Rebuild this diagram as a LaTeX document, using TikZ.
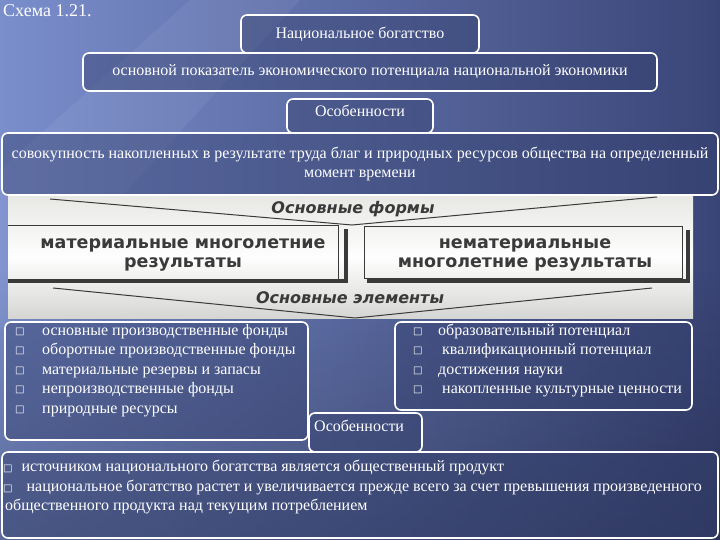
\documentclass[tikz,border=0pt]{standalone}
\usepackage{fontspec}
\setmainfont{Liberation Serif}
\newfontfamily\scanfont{DejaVu Sans}
\newfontfamily\markfont{DejaVu Sans}
\usetikzlibrary{fadings}

\definecolor{slidelight}{HTML}{7A8ECC}
\definecolor{slidedark}{HTML}{3A4577}
\definecolor{boxfill}{HTML}{34406E}
\definecolor{scanpaper}{HTML}{E8E8E5}
\definecolor{scanink}{HTML}{3A3A3A}

\tikzset{
  slidebox/.style={draw=white, line width=1.6pt, rounded corners=6pt, fill=boxfill,
    fill opacity=0.45, text opacity=1, text=white, inner sep=0pt,
    font=\fontsize{16}{19.5}\selectfont, align=center},
  slidetext/.style={text=white, font=\fontsize{16}{19.5}\selectfont, inner sep=0pt, anchor=base west},
  scanline/.style={scanink, line width=1pt},
  scanshadow/.style={scanink, line width=3.5pt},
  scanlabel/.style={text=scanink, font=\scanfont\bfseries\fontsize{17.5}{19}\selectfont, align=center},
  scantitle/.style={text=scanink, font=\scanfont\bfseries\itshape\fontsize{16}{17}\selectfont},
}
\newcommand{\sqmark}{{\markfont\fontsize{10}{10}\selectfont □}}

\begin{document}
\begin{tikzpicture}[x=1pt,y=-1pt]
  % background
  \useasboundingbox (0,0) rectangle (720,540);
  \shade[left color=slidelight, right color=slidedark] (0,0) rectangle (720,540);
  \fill[white, opacity=0.06] (0,170) -- (0,330) -- (300,0) -- (190,0) -- cycle;
  \fill[black, opacity=0.25, path fading=north] (0,270) rectangle (720,540);

  \node[text=white, font=\fontsize{18}{20}\selectfont, anchor=base west, inner sep=0pt] (scheme) at (3,17) {Схема 1.21.};

  % upper boxes
  \node[slidebox, minimum width=238pt, minimum height=38pt] (wealth) at (360,34) {Национальное богатство};
  \node[slidebox, minimum width=574pt, minimum height=38pt] (index) at (370,72) {основной показатель экономического потенциала национальной экономики};
  \node[slidebox, minimum width=146pt, minimum height=34pt] (feat) at (360,116) {};
  \node[slidetext, anchor=base] (feattext) at (360,117) {Особенности};
  \node[slidebox, minimum width=716pt, minimum height=62pt] (essence) at (360,164)
    {совокупность накопленных в результате труда благ и природных ресурсов общества на определенный\\момент времени};

  % scanned scheme
  \shade[top color=scanpaper, bottom color=scanpaper!92!black, middle color=white!96!scanpaper] (8,197) rectangle (693,318);
  \coordinate (fl) at (50,199);
  \coordinate (fr) at (657,197);
  \coordinate (fj) at (352,225);
  \coordinate (el) at (53,288);
  \coordinate (er) at (652,288);
  \coordinate (ej) at (355,318);
  \draw[scanline] (fl) -- (fj) -- (fr);
  \draw[scanline] (el) -- (ej) -- (er);
  % left form
  \draw[scanline] (8,226) -- (338,226) -- (338,279) -- (8,279);
  \draw[scanshadow] (8,281) -- (346,281) -- (346,229);
  % right form
  \draw[scanline] (364,227) rectangle (682,278);
  \draw[scanshadow] (367,281) -- (688,281) -- (688,230);
  \node[scantitle] (forms) at (353,209) {Основные формы};
  \node[scantitle] (elements) at (350,298) {Основные элементы};
  \node[scanlabel] (material) at (183,255) {материальные многолетние\\результаты};
  \node[scanlabel] (immaterial) at (525,255) {нематериальные\\многолетние результаты};

  % lists
  \node[slidebox, minimum width=303pt, minimum height=118pt] (matlist) at (156.5,381) {};
  \foreach \i/\t in {0/основные производственные фонды, 1/оборотные производственные фонды,
      2/материальные резервы и запасы, 3/непроизводственные фонды, 4/природные ресурсы}
    \node[slidetext] (m\i) at (42,335+19.5*\i) {\t};
  \foreach \i in {0,...,4}
    \node[slidetext] (mb\i) at (15,334+19.5*\i) {\sqmark};
  \node[slidebox, minimum width=297pt, minimum height=88pt] (imlist) at (543.5,366) {};
  \foreach \i/\t in {0/образовательный потенциал, 1/\ квалификационный потенциал,
      2/достижения науки, 3/\ накопленные культурные ценности}
    \node[slidetext] (n\i) at (438,335+19.5*\i) {\t};
  \foreach \i in {0,...,3}
    \node[slidetext] (nb\i) at (413,334+19.5*\i) {\sqmark};

  % lower boxes
  \node[slidebox, minimum width=113pt, minimum height=39pt] (feat2) at (365.5,432.5) {};
  \node[slidetext] (feat2text) at (314,431) {Особенности};
  \node[slidebox, minimum width=716pt, minimum height=86pt] (source) at (360,495) {};
  \node[slidetext] (s1) at (3,471) {\sqmark\hspace{9pt}источником национального богатства является общественный продукт};
  \node[slidetext] (s2) at (3,491) {\sqmark\hspace{14pt}национальное богатство растет и увеличивается прежде всего за счет превышения произведенного};
  \node[slidetext] (s3) at (5,510) {общественного продукта над текущим потреблением};
\end{tikzpicture}
\end{document}
